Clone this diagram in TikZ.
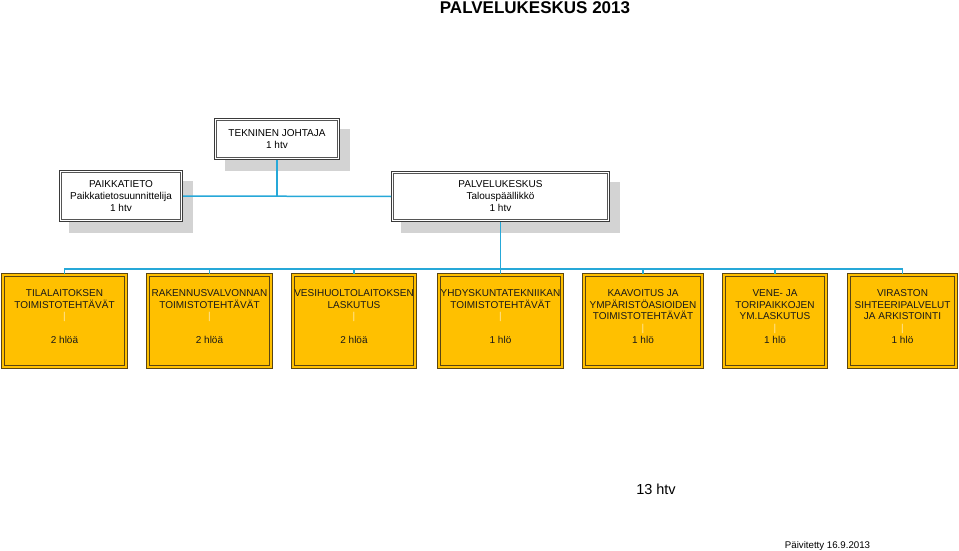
\documentclass[tikz,border=0pt]{standalone}
\usepackage{fontspec}
\setmainfont{Liberation Sans}
\definecolor{boxyellow}{HTML}{FFC000}
\definecolor{boxbrown}{HTML}{5A4512}
\definecolor{linkblue}{HTML}{26A8D8}
\definecolor{shadowgray}{HTML}{D3D3D3}
\definecolor{pipecol}{HTML}{FFE9A8}
\definecolor{boxgray}{HTML}{3A3A3A}
\definecolor{innergray}{HTML}{555555}
\tikzset{
  whitebox/.style={draw=boxgray, line width=1pt, rectangle,
    fill=white, inner sep=0pt, align=center, minimum width=#1},
  innerline/.style={draw=innergray, line width=0.8pt},
  yellowbox/.style={draw=boxbrown, double=boxyellow, double distance=1.1pt, line width=1.1pt,
    fill=boxyellow, inner sep=0pt, minimum height=92pt, minimum width=#1},
  ytext/.style={align=center, inner sep=0pt, text=black!90},
  link/.style={draw=linkblue, line width=1.5pt},
  note/.style={inner sep=0pt, anchor=base}
}
\begin{document}
\begin{tikzpicture}[x=1pt,y=-1pt]
\useasboundingbox (0,0) rectangle (959,551);

% title
\node[note, font=\fontsize{17}{20}\bfseries\selectfont] (title) at (535,14) {PALVELUKESKUS 2013};

% shadows
\fill[shadowgray] (225,129) rectangle (350,171);
\fill[shadowgray] (69,181) rectangle (193,233);
\fill[shadowgray] (401,182) rectangle (620,233);

% top boxes
\node[whitebox=125pt, minimum height=41pt, font=\fontsize{10}{12}\selectfont] (tj) at (277,139) {TEKNINEN JOHTAJA\\1 htv};
\node[whitebox=123pt, minimum height=51pt, font=\fontsize{10}{12}\selectfont] (pk) at (121,196) {PAIKKATIETO\\Paikkatietosuunnittelija\\1 htv};
\node[whitebox=218pt, minimum height=50pt, font=\fontsize{10}{12}\selectfont] (pal) at (500.5,196.5) {PALVELUKESKUS\\Talouspäällikkö\\1 htv};
\foreach \n in {tj,pk,pal}{
  \draw[innerline] ([shift={(2.6,2.6)}]\n.north west) rectangle ([shift={(-2.6,-2.6)}]\n.south east);
}

% yellow boxes
\node[yellowbox=123pt] (b1) at (64.5,321) {};
\node[yellowbox=123pt] (b2) at (209.5,321) {};
\node[yellowbox=122pt] (b3) at (354,321) {};
\node[yellowbox=123pt] (b4) at (500.5,321) {};
\node[yellowbox=118pt] (b5) at (643,321) {};
\node[yellowbox=102pt] (b6) at (775,321) {};
\node[yellowbox=107pt] (b7) at (902.5,321) {};

\tikzset{every node/.append style={font=\fontsize{10}{11.8}\selectfont}}
\node[ytext] (t1) at (64.5,316.5) {TILALAITOKSEN\\TOIMISTOTEHTÄVÄT\\\textcolor{pipecol}{|}\\ \\2 hlöä};
\node[ytext] (t2) at (209.5,316.5) {RAKENNUSVALVONNAN\\TOIMISTOTEHTÄVÄT\\\textcolor{pipecol}{|}\\ \\2 hlöä};
\node[ytext] (t3) at (354,316.5) {VESIHUOLTOLAITOKSEN\\LASKUTUS\\\textcolor{pipecol}{|}\\ \\2 hlöä};
\node[ytext] (t4) at (500.5,316.5) {YHDYSKUNTATEKNIIKAN\\TOIMISTOTEHTÄVÄT\\\textcolor{pipecol}{|}\\ \\1 hlö};
\node[ytext] (t5) at (643,316.5) {KAAVOITUS JA\\YMPÄRISTÖASIOIDEN\\TOIMISTOTEHTÄVÄT\\\textcolor{pipecol}{|}\\1 hlö};
\node[ytext] (t6) at (775,316.5) {VENE- JA\\TORIPAIKKOJEN\\YM.LASKUTUS\\\textcolor{pipecol}{|}\\1 hlö};
\node[ytext] (t7) at (902.5,316.5) {VIRASTON\\SIHTEERIPALVELUT\\JA ARKISTOINTI\\\textcolor{pipecol}{|}\\1 hlö};
\tikzset{every node/.append style={font=}}

% connectors
\coordinate (jt) at (277,196);
\coordinate (bus) at (500.5,269);
\draw[link] (pk.east) -- (pal.west);
\draw[link] (tj.south) -- (jt);
\draw[link] (pal.south) -- (bus);
\draw[link] (b1.north) -- (b1.north |- bus) -- (b7.north |- bus) -- (b7.north);
\foreach \b in {b2,b3,b4,b5,b6} {\draw[link] (\b.north |- bus) -- (\b.north);}

% footer
\node[note, font=\fontsize{14.5}{17}\selectfont] (total) at (656,494) {13 htv};
\node[note, font=\fontsize{9.7}{11}\selectfont] (date) at (827.5,548.5) {Päivitetty 16.9.2013};
\end{tikzpicture}
\end{document}
